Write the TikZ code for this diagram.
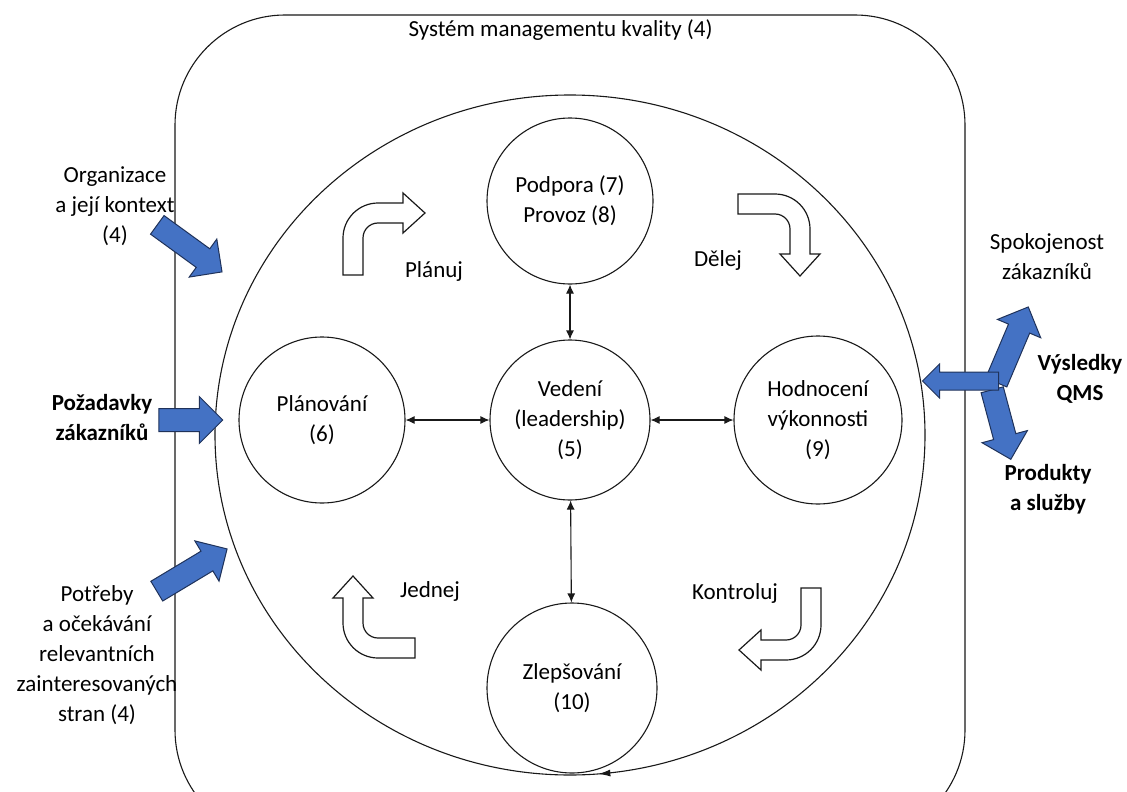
\documentclass[tikz,border=0pt]{standalone}
\usepackage{fontspec}
\setmainfont{Carlito}
\usetikzlibrary{arrows.meta,shapes.arrows,decorations.markings}

\definecolor{qmsblue}{RGB}{68,114,196}
\definecolor{qmsedge}{RGB}{31,50,90}
\definecolor{qmsline}{RGB}{25,25,25}

\tikzset{
  stage/.style={circle, draw=qmsline, line width=1.1pt, inner sep=0pt, minimum size=166pt, align=center},
  link/.style={line width=1.1pt, draw=qmsline, {Latex[length=9pt,width=8pt]}-{Latex[length=9pt,width=8pt]}},
  inflow/.style={single arrow, draw=qmsedge, fill=qmsblue, line width=1pt, inner xsep=0pt, inner ysep=11pt,
    single arrow head extend=12pt, minimum width=0pt},
  outflow/.style={inflow, inner ysep=8.5pt, single arrow head extend=8pt},
  lbl/.style={align=center, text=black},
  turnarrow/.pic={
    \draw[line width=1.2pt, draw=qmsline, fill=white] (-35,37) -- (-35,0)
      .. controls (-35,-19.3) and (-19.3,-35) .. (0,-35) -- (25,-35) -- (25,-45)
      -- (47,-25) -- (25,-5) -- (25,-15) -- (0,-15)
      .. controls (-8.3,-15) and (-15,-8.3) .. (-15,0) -- (-15,37) -- cycle;
  }
}

\begin{document}
\begin{tikzpicture}[x=1pt, y=-1pt, font=\fontsize{23}{30}\selectfont]
  \useasboundingbox (0,0) rectangle (1127,792);
  \clip (0,0) rectangle (1127,792);

  % frame of the system
  \draw[line width=1.1pt, draw=qmsline, rounded corners=110pt] (175,15) rectangle (965,840);
  \node[lbl, anchor=west] (title) at (405,30) {Systém managementu kvality (4)};

  % big PDCA circle
  \draw[line width=1.1pt, draw=qmsline, postaction={decorate},
    decoration={markings, mark=at position 0.237 with {\arrow{Latex[length=12pt,width=7pt]}}}]
    (570,435) ellipse [x radius=355, y radius=340];

  % stages
  \node[stage] (support) at (570,201) {Podpora (7)\\Provoz (8)};
  \node[stage, minimum size=160pt] (lead) at (570,420) {Vedení\\(leadership)\\(5)};
  \node[stage] (planning) at (322,420) {Plánování\\(6)};
  \node[stage, minimum size=168pt] (evaluation) at (818,420) {Hodnocení\\výkonnosti\\(9)};
  \node[stage, minimum size=170pt] (improve) at (572,688) {Zlepšování\\(10)};

  \draw[link] (support) -- (lead);
  \draw[link] (planning) -- (lead);
  \draw[link] (lead) -- (evaluation);
  \draw[link] (lead) -- (improve);

  % PDCA turns
  \pic at (378,238) {turnarrow};
  \pic[rotate=-90] at (775,229) {turnarrow};
  \pic[rotate=180] at (786,625) {turnarrow};
  \pic[rotate=90] at (378,623) {turnarrow};
  \node[lbl] (plantext) at (434,271) {Plánuj};
  \node[lbl] (dotext) at (718,260) {Dělej};
  \node[lbl] (checktext) at (735,593) {Kontroluj};
  \node[lbl] (acttext) at (430,591) {Jednej};

  % inputs
  \node[lbl] (orgtext) at (115,206) {Organizace\\a její kontext\\(4)};
  \node[lbl] (reqtext) at (102,418) {\textbf{Požadavky}\\\textbf{zákazníků}};
  \node[lbl] (needstext) at (97,655) {Potřeby\\a očekávání\\relevantních\\zainteresovaných\\stran (4)};
  \node[inflow, minimum height=80pt, rotate=-36] (orgarrow) at (185,245) {};
  \node[inflow, minimum height=64pt] (reqarrow) at (185,420) {};
  \node[inflow, minimum height=82pt, rotate=31] (needsarrow) at (187,573) {};

  % outputs
  \node[inflow, minimum height=82pt, rotate=67] (satisfyarrow) at (1010,350) {};
  \node[inflow, minimum height=72pt, rotate=-75] (productsarrow) at (1000,419) {};
  \node[outflow, minimum height=76pt, rotate=180] (resultsarrow) at (965,381) {};
  \node[lbl] (satisfytext) at (1047,257) {Spokojenost\\zákazníků};
  \node[lbl] (resultstext) at (1080,379) {\textbf{Výsledky}\\\textbf{QMS}};
  \node[lbl] (productstext) at (1048,489) {\textbf{Produkty}\\\textbf{a služby}};
\end{tikzpicture}
\end{document}
